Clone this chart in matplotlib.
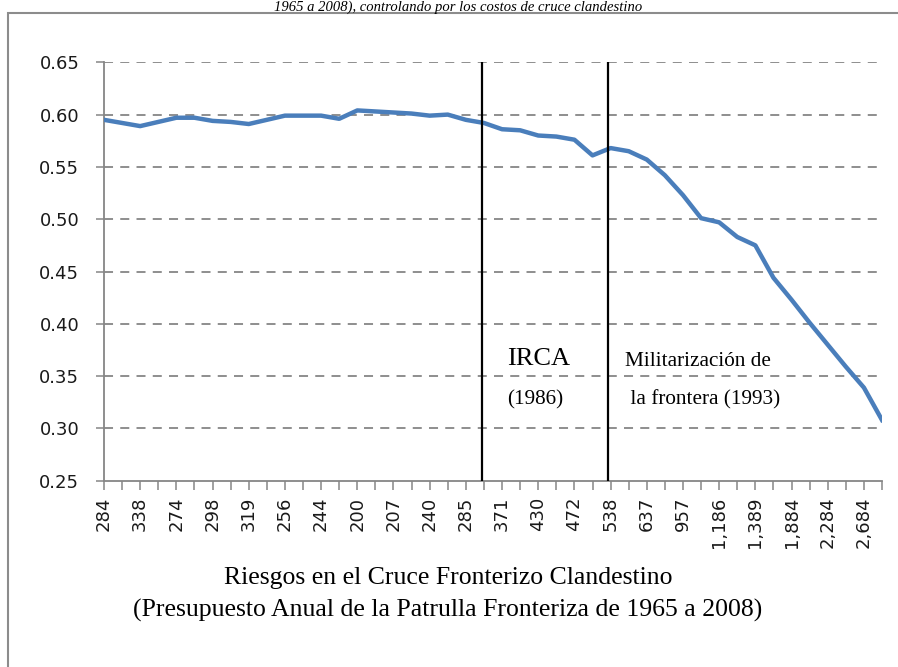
import numpy as np
import matplotlib
matplotlib.use("Agg")
import matplotlib.pyplot as plt
from matplotlib.patches import Rectangle
from matplotlib.ticker import FixedLocator, FormatStrFormatter

plt.rcParams['font.family'] = ['DejaVu Sans']

# riesgo estimado por año (1965-2008)
riesgo = [0.595, 0.592, 0.589, 0.593, 0.597, 0.597, 0.594, 0.593, 0.591, 0.595,
          0.599, 0.599, 0.599, 0.596, 0.604, 0.603, 0.602, 0.601, 0.599, 0.600,
          0.595, 0.592, 0.586, 0.585, 0.580, 0.579, 0.576, 0.561, 0.568, 0.565,
          0.557, 0.542, 0.523, 0.501, 0.497, 0.483, 0.475, 0.444, 0.423, 0.401,
          0.380, 0.359, 0.339, 0.308]
anio_inicio = 1965

# presupuesto (etiquetas visibles, una de cada dos)
presupuesto = ["284", "338", "274", "298", "319", "256", "244", "200", "207", "240",
               "285", "371", "430", "472", "538", "637", "957", "1,186", "1,389",
               "1,884", "2,284", "2,684"]

eventos = [1986, 1993]
eventos_txt = [("IRCA", "(1986)"), ("Militarización de", " la frontera (1993)")]

azul = "#4A7EBB"
gris = "#868686"

fig = plt.figure(figsize=(8.98, 6.67), dpi=100)
ax = fig.add_axes([104 / 898, 1 - 480.7 / 667, (882 - 104) / 898, (480.7 - 62.3) / 667])

x = np.arange(len(riesgo))
ax.plot(x, riesgo, color=azul, lw=3.2, solid_joinstyle="round", zorder=3)

ax.set_xlim(0, len(riesgo) - 1)
ax.set_ylim(0.25, 0.65)

# eje y
yt = np.arange(0.25, 0.651, 0.05)
ax.set_yticks(yt)
ax.yaxis.set_major_formatter(FormatStrFormatter("%.2f"))
ax.tick_params(axis="y", length=5.8, width=1.1, color=gris, pad=12,
               labelsize=13, labelcolor="#1a1a1a")
for v in yt[1:]:
    ax.axhline(v, color=gris, lw=1.3, ls=(0, (5, 4)), zorder=1)

# eje x: una marca por año, etiqueta cada dos
ax.xaxis.set_major_locator(FixedLocator(x[::2]))
ax.set_xticklabels(presupuesto, rotation=90, fontsize=13, color="#1a1a1a")
ax.xaxis.set_minor_locator(FixedLocator(x))
ax.tick_params(axis="x", which="both", length=6.5, width=1.1, color=gris, pad=5)

for s in ["top", "right"]:
    ax.spines[s].set_visible(False)
for s in ["left", "bottom"]:
    ax.spines[s].set_color(gris)
    ax.spines[s].set_linewidth(1.3)

# líneas verticales IRCA y militarización
for e in eventos:
    ax.axvline(e - anio_inicio - 0.13, color="black", lw=1.6, zorder=4)

serif = "Liberation Serif"
ax.text(22.28, 0.366, eventos_txt[0][0], fontsize=19, family=serif, va="center")
ax.text(22.28, 0.327, eventos_txt[0][1], fontsize=15.3, family=serif, va="center")
ax.text(28.82, 0.364, eventos_txt[1][0], fontsize=15.3, family=serif, va="center")
ax.text(28.82, 0.327, eventos_txt[1][1], fontsize=15.3, family=serif, va="center")

# título del eje x (abajo)
fig.text(0.499, 1 - 578 / 667, "Riesgos en el Cruce Fronterizo Clandestino",
         fontsize=18.5, family=serif, ha="center", va="center")
fig.text(0.499, 1 - 610 / 667, "(Presupuesto Anual de la Patrulla Fronteriza de 1965 a 2008)",
         fontsize=18.5, family=serif, ha="center", va="center")

# título (cortado arriba en el original)
fig.text(0.51, 1 - 1 / 667, "1965 a 2008), controlando por los costos de cruce clandestino",
         fontsize=10.5, family=serif, style="italic", ha="center", va="top")

# marco del gráfico
fig.patches.append(Rectangle((8 / 898, -0.02), 1.0, 1 - 13 / 667 + 0.02,
                             transform=fig.transFigure, fill=False,
                             edgecolor="#8c8c8c", lw=1.5))

fig.savefig("out.png", dpi=100)
